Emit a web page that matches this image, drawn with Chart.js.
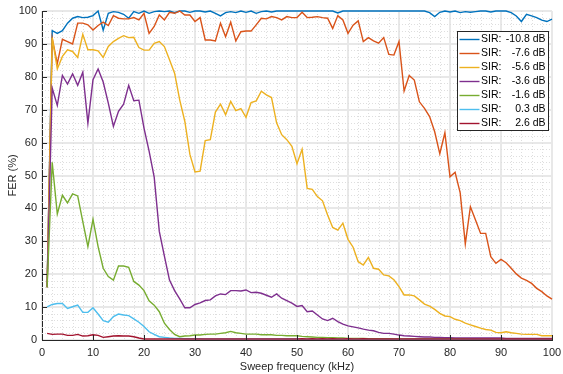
<!DOCTYPE html>
<html>
<head>
<meta charset="utf-8">
<script src="https://cdn.jsdelivr.net/npm/chart.js@4.4.1/dist/chart.umd.min.js"></script>
<style>
  html, body { margin: 0; padding: 0; background: #fff; }
  canvas { display: block; }
</style>
</head>
<body>
<canvas id="fer-chart" width="563" height="374"></canvas>
<script>
// sweep frequencies (kHz)
const freqs = [
    1, 2, 3, 4, 5, 6, 7, 8, 9, 10,
    11, 12, 13, 14, 15, 16, 17, 18, 19, 20,
    21, 22, 23, 24, 25, 26, 27, 28, 29, 30,
    31, 32, 33, 34, 35, 36, 37, 38, 39, 40,
    41, 42, 43, 44, 45, 46, 47, 48, 49, 50,
    51, 52, 53, 54, 55, 56, 57, 58, 59, 60,
    61, 62, 63, 64, 65, 66, 67, 68, 69, 70,
    71, 72, 73, 74, 75, 76, 77, 78, 79, 80,
    81, 82, 83, 84, 85, 86, 87, 88, 89, 90,
    91, 92, 93, 94, 95, 96, 97, 98, 99, 100
];

const sirLevels = ['-10.8', '-7.6', '-5.6', '-3.6', '-1.6', '0.3', '2.6'];

// FER (%) per SIR level
const ferSirM108 = [
    16.5, 94, 93.2, 94, 96.3, 97.8, 98.3, 98, 98.1, 98.6,
    100, 94.2, 99.3, 99.8, 99.6, 99, 97.8, 99.8, 99.3, 100,
    99.3, 99.8, 100, 99.8, 100, 99.5, 100, 100, 99.6, 100,
    100, 99.7, 100, 99.3, 98.5, 99.5, 99.8, 99.5, 100, 99.6,
    100, 99.3, 99.8, 100, 99.7, 100, 100, 100, 100, 100,
    100, 100, 100, 100, 100, 100, 100, 99.4, 100, 100,
    100, 100, 100, 100, 100, 100, 100, 100, 100, 100,
    100, 100, 100, 100, 100, 99.5, 98.3, 99.6, 100, 99.7,
    100, 99.5, 99.8, 99.6, 99.8, 100, 100, 99.7, 100, 100,
    100, 99.5, 98.5, 96.8, 99, 98.5, 98, 97.2, 96.8, 97.5
];
const ferSirM76 = [
    16, 91.7, 84, 91.4, 90.7, 90, 96.3, 96.3, 95.8, 94.2,
    95.6, 96.6, 95.6, 98.6, 97.8, 97.6, 97.6, 98, 97.3, 99.3,
    93.2, 95.3, 98.8, 97.3, 99.6, 99.3, 100, 98.8, 98.8, 96.8,
    98, 91.2, 91.2, 90.9, 96.3, 92.2, 96.6, 90.9, 93.7, 93.9,
    93.9, 95.8, 97.8, 97.6, 98.3, 98, 97.3, 98.3, 98, 98,
    99.6, 98, 98.1, 98.3, 98, 97.8, 94.7, 98.6, 97.3, 93.2,
    95.7, 97, 90.7, 91.9, 90.9, 90.2, 91.9, 86.8, 86.6, 90.7,
    75.7, 80.4, 79, 72.4, 70.4, 67.9, 63.3, 56.6, 63, 49.6,
    51, 44.7, 29.2, 40.5, 36.5, 32.4, 32.4, 25.3, 23.3, 24.5,
    23.5, 21.8, 20.1, 18.8, 18.1, 17.2, 15.7, 14.7, 13.4, 12.4
];
const ferSirM56 = [
    16, 91.9, 82.4, 86.2, 88.2, 87.7, 85.9, 92.9, 88.2, 88.2,
    87.9, 85.9, 89.2, 90.7, 91.7, 92.5, 91.9, 92, 88.9, 88.1,
    88.1, 90.2, 90.7, 89.2, 85.2, 81.1, 73, 66.5, 56.4, 51.1,
    51.3, 60.6, 60.9, 69.3, 71.7, 68.5, 72.5, 69.7, 70.3, 67.7,
    72.2, 72.7, 75.6, 74.5, 73.7, 66, 62.4, 60.9, 58.9, 53.6,
    58, 46.1, 45.8, 43.6, 42.3, 38, 34.2, 33.4, 35.5, 30.6,
    28.2, 23.8, 22.8, 25.1, 21.8, 21.5, 19.8, 19.5, 18.3, 16.2,
    13.7, 13.7, 13.4, 12.2, 10.9, 10.3, 9.3, 8.1, 7.3, 7.1,
    6.3, 5.9, 5.1, 4.6, 4.1, 3.6, 3.2, 3.0, 2.3, 2.2,
    2.5, 2.2, 2.0, 1.8, 1.7, 1.7, 1.7, 1.3, 1.3, 1.3
];
const ferSirM36 = [
    16, 76.6, 71.3, 80.4, 77.8, 80.9, 77.4, 81.4, 65.9, 79.1,
    82.4, 78.4, 72, 64.9, 69.5, 71.7, 77.4, 72.7, 72.9, 64.4,
    57.4, 49.5, 33, 25.5, 18.2, 15, 12.5, 9.8, 9.8, 10.8,
    11.3, 12, 12.2, 13.4, 14, 13.8, 15, 15, 14.9, 15.2,
    14.4, 14.5, 14.2, 13.6, 13, 14, 12.7, 12, 11.2, 10.2,
    10.5, 8.6, 8.8, 7.6, 6.4, 5.9, 6.6, 5.6, 4.8, 4.3,
    4.0, 3.7, 3.3, 3.0, 2.8, 2.3, 2.0, 2.0, 1.8, 1.5,
    1.3, 1.2, 1.1, 1.0, 0.9, 0.9, 0.8, 0.8, 0.7, 0.7,
    0.6, 0.6, 0.6, 0.6, 0.6, 0.6, 0.6, 0.6, 0.6, 0.6,
    0.5, 0.5, 0.5, 0.5, 0.5, 0.5, 0.5, 0.5, 0.5, 0.5
];
const ferSirM16 = [
    16, 54, 38.3, 44, 41.7, 44.4, 43.8, 36, 28.4, 36.7,
    28.4, 21.8, 19.3, 18.2, 22.5, 22.5, 22.1, 17.8, 16.7, 15,
    11.9, 10.6, 8.6, 5.1, 3.2, 1.7, 1.0, 1.2, 1.3, 1.5,
    1.5, 1.7, 1.8, 1.8, 2.0, 2.2, 2.6, 2.2, 2.0, 1.8,
    1.8, 1.8, 1.6, 1.6, 1.6, 1.4, 1.4, 1.3, 1.3, 1.3,
    1.1, 1.0, 0.9, 0.8, 0.8, 0.7, 0.7, 0.6, 0.6, 0.5,
    0.5, 0.5, 0.5, 0.4, 0.4, 0.4, 0.4, 0.4, 0.3, 0.3,
    0.3, 0.3, 0.3, 0.3, 0.3, 0.3, 0.3, 0.3, 0.3, 0.3,
    0.3, 0.3, 0.3, 0.2, 0.2, 0.2, 0.2, 0.2, 0.2, 0.2,
    0.2, 0.2, 0.2, 0.2, 0.2, 0.2, 0.2, 0.2, 0.2, 0.2
];
const ferSirP03 = [
    10.1, 10.8, 11.1, 11.1, 9.6, 10.1, 10.6, 8.4, 8.4, 9.8,
    7.9, 5.9, 5.4, 7.1, 7.9, 7.6, 7.4, 6.4, 5.4, 4.1,
    2.5, 1.7, 1.0, 0.8, 0.6, 0.5, 0.5, 0.4, 0.4, 0.4,
    0.4, 0.3, 0.3, 0.3, 0.3, 0.3, 0.3, 0.3, 0.3, 0.3,
    0.3, 0.3, 0.3, 0.3, 0.3, 0.3, 0.3, 0.3, 0.3, 0.3,
    0.2, 0.2, 0.2, 0.2, 0.2, 0.2, 0.2, 0.2, 0.2, 0.2,
    0.2, 0.2, 0.2, 0.2, 0.2, 0.2, 0.2, 0.2, 0.2, 0.2,
    0.2, 0.2, 0.2, 0.2, 0.2, 0.2, 0.2, 0.2, 0.2, 0.2,
    0.2, 0.2, 0.2, 0.2, 0.2, 0.2, 0.2, 0.2, 0.2, 0.2,
    0.2, 0.2, 0.2, 0.2, 0.2, 0.2, 0.2, 0.2, 0.2, 0.2
];
const ferSirP26 = [
    2.0, 1.7, 1.8, 1.8, 1.4, 1.4, 1.7, 1.2, 1.3, 1.6,
    1.4, 0.8, 1.0, 1.2, 1.3, 1.2, 1.2, 1.0, 0.6, 0.3,
    0.3, 0.3, 0.3, 0.3, 0.3, 0.3, 0.3, 0.3, 0.3, 0.3,
    0.3, 0.3, 0.3, 0.3, 0.3, 0.3, 0.3, 0.3, 0.3, 0.3,
    0.3, 0.3, 0.3, 0.3, 0.3, 0.3, 0.3, 0.3, 0.3, 0.3,
    0.4, 0.3, 0.4, 0.3, 0.4, 0.3, 0.4, 0.3, 0.3, 0.4,
    0.3, 0.3, 0.4, 0.3, 0.3, 0.3, 0.3, 0.3, 0.3, 0.3,
    0.3, 0.3, 0.3, 0.3, 0.3, 0.3, 0.3, 0.3, 0.3, 0.3,
    0.3, 0.3, 0.3, 0.3, 0.3, 0.3, 0.3, 0.3, 0.3, 0.3,
    0.3, 0.3, 0.3, 0.3, 0.3, 0.3, 0.3, 0.3, 0.3, 0.3
];

const xTicks = [0, 10, 20, 30, 40, 50, 60, 70, 80, 90, 100];
const yTicks = [0, 10, 20, 30, 40, 50, 60, 70, 80, 90, 100];

const seriesColors = ['#0072BD', '#D95319', '#EDB120', '#7E2F8E', '#77AC30', '#4DBEEE', '#A2142F'];
const FONT = "'Liberation Sans', Arial, Helvetica, sans-serif";
const AXIS_COLOR = '#262626';

const allSeries = [ferSirM108, ferSirM76, ferSirM56, ferSirM36, ferSirM16, ferSirP03, ferSirP26];

const datasets = allSeries.map((vals, i) => ({
    label: `SIR: ${sirLevels[i]} dB`,
    data: vals.map((v, k) => ({ x: freqs[k], y: v })),
    borderColor: seriesColors[i],
    backgroundColor: seriesColors[i],
    borderWidth: 1.4,
    pointRadius: 0,
    tension: 0,
    clip: false,
    order: allSeries.length - i
}));

// dotted minor grid every 2 units, like matlab's "grid minor"
const minorGrid = {
    id: 'minorGrid',
    beforeDatasetsDraw(chart) {
        const { ctx, chartArea: a, scales: { x, y } } = chart;
        ctx.save();
        ctx.strokeStyle = '#dedede';
        ctx.lineWidth = 1;
        ctx.setLineDash([1, 2]);
        for (let v = 2; v < 100; v += 2) {
            if (v % 10 === 0) continue;
            const px = Math.round(x.getPixelForValue(v)) + 0.5;
            ctx.beginPath();
            ctx.moveTo(px, a.top);
            ctx.lineTo(px, a.bottom);
            ctx.stroke();
            const py = Math.round(y.getPixelForValue(v)) + 0.5;
            ctx.beginPath();
            ctx.moveTo(a.left, py);
            ctx.lineTo(a.right, py);
            ctx.stroke();
        }
        ctx.restore();
    },
    afterDatasetsDraw(chart) {
        // inward tick marks on left and bottom axes
        const { ctx, chartArea: a, scales: { x, y } } = chart;
        ctx.save();
        ctx.strokeStyle = AXIS_COLOR;
        ctx.lineWidth = 1;
        xTicks.forEach(t => {
            const px = Math.round(x.getPixelForValue(t)) + 0.5;
            ctx.beginPath();
            ctx.moveTo(px, a.bottom);
            ctx.lineTo(px, a.bottom - 5);
            ctx.stroke();
        });
        yTicks.forEach(t => {
            const py = Math.round(y.getPixelForValue(t)) + 0.5;
            ctx.beginPath();
            ctx.moveTo(a.left, py);
            ctx.lineTo(a.left + 5, py);
            ctx.stroke();
        });
        ctx.restore();
    }
};

// boxed legend in the upper right corner
const boxLegend = {
    id: 'boxLegend',
    afterDraw(chart) {
        const { ctx } = chart;
        const left = 457.5, top = 31.5, w = 91, h = 99;
        ctx.save();
        ctx.fillStyle = '#fff';
        ctx.fillRect(left, top, w, h);
        ctx.strokeStyle = AXIS_COLOR;
        ctx.lineWidth = 1;
        ctx.strokeRect(left, top, w, h);
        ctx.font = `10.5px ${FONT}`;
        ctx.textBaseline = 'middle';
        ctx.fillStyle = '#000';
        sirLevels.forEach((lvl, i) => {
            const cy = top + 8 + i * 14;
            ctx.strokeStyle = seriesColors[i];
            ctx.lineWidth = 1.4;
            ctx.beginPath();
            ctx.moveTo(left + 2, cy);
            ctx.lineTo(left + 22, cy);
            ctx.stroke();
            ctx.textAlign = 'left';
            ctx.fillText('SIR:', left + 23.5, cy);
            ctx.textAlign = 'right';
            ctx.fillText(`${lvl} dB`, left + w - 3, cy);
        });
        ctx.restore();
    }
};

new Chart(document.getElementById('fer-chart'), {
    type: 'line',
    data: { datasets },
    options: {
        responsive: false,
        animation: false,
        events: [],
        layout: { padding: { left: 0, right: 11, top: 11, bottom: 0 } },
        plugins: {
            legend: { display: false },
            tooltip: { enabled: false }
        },
        scales: {
            x: {
                type: 'linear',
                min: 0,
                max: 100,
                afterBuildTicks: s => { s.ticks = xTicks.map(v => ({ value: v })); },
                afterFit: s => { s.height = 34; s.paddingLeft = 0; s.paddingRight = 0; },
                ticks: {
                    padding: 6,
                    maxRotation: 0,
                    autoSkip: false,
                    color: AXIS_COLOR,
                    font: { family: FONT, size: 11 }
                },
                grid: { color: '#e8e8e8', lineWidth: 2, drawTicks: false },
                border: { display: true, color: AXIS_COLOR, width: 1 },
                title: {
                    display: true,
                    text: 'Sweep frequency (kHz)',
                    color: AXIS_COLOR,
                    font: { family: FONT, size: 11 },
                    padding: { top: 0, bottom: 0 }
                }
            },
            y: {
                type: 'linear',
                min: 0,
                max: 100,
                afterBuildTicks: s => { s.ticks = yTicks.map(v => ({ value: v })); },
                afterFit: s => { s.width = 42; s.paddingTop = 0; s.paddingBottom = 0; },
                ticks: {
                    padding: 5,
                    color: AXIS_COLOR,
                    font: { family: FONT, size: 11 }
                },
                grid: { color: '#e8e8e8', lineWidth: 2, drawTicks: false },
                border: { display: true, color: AXIS_COLOR, width: 1 },
                title: {
                    display: true,
                    text: 'FER (%)',
                    color: AXIS_COLOR,
                    font: { family: FONT, size: 11 },
                    padding: { top: 6, bottom: 0 }
                }
            }
        }
    },
    plugins: [minorGrid, boxLegend]
});
</script>
</body>
</html>
